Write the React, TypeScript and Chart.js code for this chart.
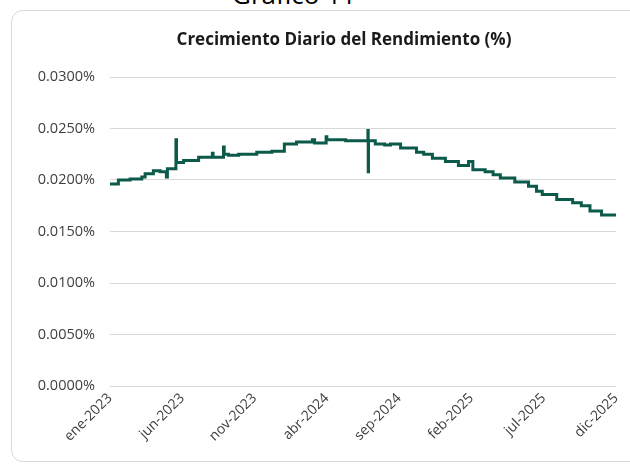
import React, { useEffect, useRef } from 'react';
import { Chart, registerables } from 'chart.js';

Chart.register(...registerables);

// x positions in months elapsed since ene-2023 (daily series)
const monthPos = [
  0, 0.58, 1.39, 2.2, 2.43, 3.0, 3.47, 3.9, 3.97,
  4.56, 4.6, 5.09, 6.13, 7.08, 7.13, 7.85, 7.9,
  8.2, 8.9, 10.15, 11.2, 12.06, 12.9, 14.0, 14.15, 14.95, 15.0,
  16.3, 17.84, 17.86, 17.88, 18.35, 19.0, 19.4, 20.1, 21.2, 21.7, 22.3,
  23.2, 24.1, 24.8, 25.1, 25.95, 26.5, 27.0, 28.0, 28.95, 29.5, 29.9,
  30.9, 32.0, 32.6, 33.2, 34.0, 35.0,
];
// daily growth of the yield, in %
const rendimiento = [
  0.0196, 0.0200, 0.0201, 0.0203, 0.0206, 0.0209, 0.0208, 0.0203, 0.0211,
  0.0239, 0.0217, 0.0219, 0.0222, 0.0226, 0.0222, 0.0232, 0.0225,
  0.0224, 0.0225, 0.0227, 0.0228, 0.0235, 0.0237, 0.0239, 0.0236, 0.0242, 0.0239,
  0.0238, 0.0248, 0.0208, 0.0238, 0.0235, 0.0234, 0.0235, 0.0231, 0.0227, 0.0225, 0.0221,
  0.0218, 0.0214, 0.0218, 0.0210, 0.0208, 0.0205, 0.0202, 0.0198, 0.0194, 0.0189, 0.0186,
  0.0181, 0.0178, 0.0175, 0.0170, 0.0166, 0.0166,
];
const xTickLabels = [
  'ene-2023', 'jun-2023', 'nov-2023', 'abr-2024',
  'sep-2024', 'feb-2025', 'jul-2025', 'dic-2025',
];
const yTicks = [0, 0.005, 0.01, 0.015, 0.02, 0.025, 0.03];

const FONT = "'Open Sans', 'Noto Sans', sans-serif";
const CANVAS_W = 688;

export default function App() {
  const ref = useRef<HTMLCanvasElement | null>(null);

  useEffect(() => {
    document.body.style.margin = '0';
    if (!ref.current) return;
    const chart = new Chart(ref.current, {
      type: 'line',
      data: {
        datasets: [
          {
            label: 'Crecimiento Diario del Rendimiento (%)',
            data: monthPos.map((x, i) => ({ x, y: rendimiento[i] })),
            borderColor: '#0B5A4A',
            borderWidth: 3,
            pointRadius: 0,
            stepped: true,
            fill: false,
            yAxisID: 'y',
          },
        ],
      },
      options: {
        animation: false,
        responsive: false,
        devicePixelRatio: 1,
        layout: { padding: { top: 30, right: 0, left: 0, bottom: 0 } },
        plugins: {
          legend: { display: false },
          tooltip: { enabled: false },
          title: {
            display: true,
            text: 'Crecimiento Diario del Rendimiento (%)',
            color: '#1a1a1a',
            font: { family: FONT, size: 17, weight: 'bold' },
            padding: { top: 0, bottom: 26.6 },
          },
        },
        scales: {
          x: {
            type: 'linear',
            min: 0,
            max: 35,
            afterBuildTicks: (s: any) => {
              s.ticks = xTickLabels.map((_, i) => ({ value: i * 5 }));
            },
            afterFit: (s: any) => {
              s.height = 79;
            },
            ticks: {
              autoSkip: false,
              maxRotation: 45,
              minRotation: 45,
              padding: 4,
              color: '#404040',
              font: { family: FONT, size: 14 },
              callback: (v: any) => xTickLabels[Math.round(Number(v) / 5)],
            },
            grid: { display: false, drawTicks: false },
            border: { display: false },
          },
          y: {
            min: 0,
            max: 0.03,
            afterBuildTicks: (s: any) => {
              s.ticks = yTicks.map((v) => ({ value: v }));
            },
            afterFit: (s: any) => {
              s.width = 110;
            },
            ticks: {
              padding: 15,
              color: '#404040',
              font: { family: FONT, size: 14.5 },
              callback: (v: any) => Number(v).toFixed(4) + '%',
            },
            grid: { color: '#d9d9d9', lineWidth: 1, drawTicks: false },
            border: { display: false },
          },
          spacer: {
            type: 'linear',
            position: 'right',
            min: 0,
            max: 1,
            afterFit: (s: any) => {
              s.width = CANVAS_W - 616;
            },
            ticks: { display: false },
            grid: { display: false, drawTicks: false },
            border: { display: false },
          },
        },
      },
    });
    return () => chart.destroy();
  }, []);

  return (
    <div
      style={{
        position: 'absolute',
        left: 0,
        top: 0,
        width: 630,
        height: 465,
        overflow: 'hidden',
        background: '#ffffff',
      }}
    >
      <div
        style={{
          position: 'absolute',
          left: 0,
          width: 588,
          top: -19,
          textAlign: 'center',
          fontFamily: FONT,
          fontSize: 26,
          lineHeight: '26px',
          color: '#000',
        }}
      >
        Gráfico 11
      </div>
      <div
        style={{
          position: 'absolute',
          left: 11,
          top: 10,
          width: 660,
          height: 452,
          border: '1px solid #d9d9d9',
          borderRadius: 12,
          boxSizing: 'border-box',
        }}
      />
      <canvas
        ref={ref}
        width={CANVAS_W}
        height={465}
        style={{ position: 'absolute', left: 0, top: 0, width: CANVAS_W, height: 465 }}
      />
    </div>
  );
}
